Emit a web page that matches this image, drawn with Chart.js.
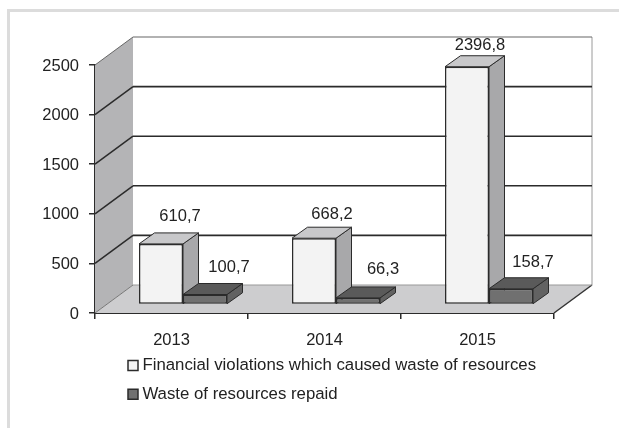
<!DOCTYPE html>
<html>
<head>
<meta charset="utf-8">
<script src="https://cdn.jsdelivr.net/npm/chart.js@4"></script>
<style>
  html, body { margin: 0; padding: 0; background: #fff; }
  body { width: 619px; height: 428px; overflow: hidden; position: relative; }
  #frame { position: absolute; left: 7px; top: 9px; right: 0; bottom: 0;
           border-top: 3px solid #dcdcdc; border-left: 3px solid #dcdcdc; }
  canvas { position: absolute; left: 0; top: 0; filter: blur(0.35px); }
</style>
</head>
<body>
<div id="frame"></div>
<canvas id="wasteChart" width="619" height="428"></canvas>
<script>
  const years = ['2013', '2014', '2015'];
  const violations = [610.7, 668.2, 2396.8];
  const repaid = [100.7, 66.3, 158.7];
  const seriesNames = ['Financial violations which caused waste of resources', 'Waste of resources repaid'];
  const yTicksMax = 2500;

  const WALL_DX = 38, WALL_DY = -28;   // depth of the box
  const BAR_DX = 11.5, BAR_DY = -8.5;  // bars stand partway back on the floor
  const FACE_DX = 15.5, FACE_DY = -11; // depth of one bar
  const FONT = '16.5px "Liberation Sans", Arial, sans-serif';

  function poly(ctx, pts, fill, stroke, lw) {
    ctx.beginPath();
    pts.forEach((p, i) => (i ? ctx.lineTo(p[0], p[1]) : ctx.moveTo(p[0], p[1])));
    ctx.closePath();
    if (fill) { ctx.fillStyle = fill; ctx.fill(); }
    if (stroke) { ctx.strokeStyle = stroke; ctx.lineWidth = lw || 1; ctx.stroke(); }
  }

  function line(ctx, x1, y1, x2, y2, color, lw) {
    ctx.beginPath();
    ctx.moveTo(x1, y1);
    ctx.lineTo(x2, y2);
    ctx.strokeStyle = color;
    ctx.lineWidth = lw;
    ctx.stroke();
  }

  const box3d = {
    id: 'box3d',
    afterLayout(chart) {
      // legend rows sit left aligned under the plot, not centred
      const lg = chart.legend;
      lg.left = 120;
      lg.right = 600;
      lg.top = 345;
    },
    beforeDatasetsDraw(chart) {
      const { ctx, scales } = chart;
      const y = scales.y, x = scales.x;
      const l = x.left, r = x.right, y0 = y.getPixelForValue(0), yTop = y.getPixelForValue(yTicksMax);

      ctx.save();
      // left wall and back wall
      poly(ctx, [[l, y0], [l + WALL_DX, y0 + WALL_DY], [l + WALL_DX, yTop + WALL_DY], [l, yTop]], '#b4b4b6');
      line(ctx, r + WALL_DX, yTop + WALL_DY, r + WALL_DX, y0 + WALL_DY, '#9a9a9a', 1);
      // floor
      poly(ctx, [[l, y0], [r, y0], [r + WALL_DX, y0 + WALL_DY], [l + WALL_DX, y0 + WALL_DY]], '#cdcdcf');
      line(ctx, l, y0, l + WALL_DX, y0 + WALL_DY, '#777', 1);
      line(ctx, r, y0, r + WALL_DX, y0 + WALL_DY, '#333', 1.5);
      line(ctx, l + WALL_DX, y0 + WALL_DY, r + WALL_DX, y0 + WALL_DY, '#999', 1);

      // gridlines run along the wall and the back
      y.ticks.forEach((t) => {
        if (t.value === 0) return;
        const py = y.getPixelForValue(t.value);
        const top = t.value === yTicksMax;
        const c = top ? '#666' : '#2b2b2b';
        line(ctx, l, py, l + WALL_DX, py + WALL_DY, c, top ? 1 : 1.5);
        line(ctx, l + WALL_DX, py + WALL_DY, r + WALL_DX, py + WALL_DY, c, top ? 1.2 : 1.6);
      });

      // every dataset is drawn on the bar plane, shifted back from the axis
      ctx.restore();
      ctx.save();
      ctx.translate(BAR_DX, BAR_DY);

      // side and top faces first, the library's own bars go on top as front faces
      chart.data.datasets.forEach((ds, di) => {
        chart.getDatasetMeta(di).data.forEach((bar) => {
          const { x: cx, y: top, base, width } = bar.getProps(['x', 'y', 'base', 'width']);
          const xr = cx + width / 2, xl = cx - width / 2;
          poly(ctx, [[xr, top], [xr + FACE_DX, top + FACE_DY], [xr + FACE_DX, base + FACE_DY], [xr, base]], ds.sideColor, '#2b2b2b', 1);
          poly(ctx, [[xl, top], [xl + FACE_DX, top + FACE_DY], [xr + FACE_DX, top + FACE_DY], [xr, top]], ds.topColor, '#2b2b2b', 1);
        });
      });
    },
    afterDatasetsDraw(chart) {
      const { ctx } = chart;
      ctx.restore();

      ctx.save();
      ctx.font = FONT;
      ctx.fillStyle = '#222';
      ctx.textAlign = 'center';
      ctx.textBaseline = 'middle';
      chart.data.datasets.forEach((ds, di) => {
        chart.getDatasetMeta(di).data.forEach((bar, i) => {
          const txt = ds.data[i].toFixed(1).replace('.', ',');
          const nudge = ds.labelNudge[i];
          ctx.fillText(txt, bar.x + BAR_DX + nudge[0], bar.y + BAR_DY + nudge[1]);
        });
      });
      ctx.restore();
    }
  };

  new Chart(document.getElementById('wasteChart'), {
    type: 'bar',
    plugins: [box3d],
    data: {
      labels: years,
      datasets: [
        {
          label: seriesNames[0],
          data: violations,
          backgroundColor: '#f3f3f3',
          borderColor: '#2b2b2b',
          borderWidth: 1.5,
          borderSkipped: false,
          sideColor: '#a8a8aa',
          topColor: '#c8c8ca',
          labelNudge: [[19, -27], [18, -24], [13, -21]],
          clip: false
        },
        {
          label: seriesNames[1],
          data: repaid,
          backgroundColor: '#707070',
          borderColor: '#2b2b2b',
          borderWidth: 1.5,
          borderSkipped: false,
          sideColor: '#626262',
          topColor: '#5a5a5a',
          labelNudge: [[24, -27], [25, -28], [22, -26]],
          clip: false
        }
      ]
    },
    options: {
      responsive: false,
      animation: false,
      layout: { padding: { top: 65, right: 65, bottom: 0, left: 0 } },
      categoryPercentage: 88 / 153,
      barPercentage: 1,
      scales: {
        x: {
          afterFit: (s) => { s.height = 115 - s.chart.legend.height; },
          border: { color: '#2b2b2b', width: 2 },
          grid: { drawOnChartArea: false, color: '#2b2b2b', tickLength: 6, lineWidth: 1.5 },
          ticks: { color: '#222', font: { size: 16.5, family: '"Liberation Sans", Arial, sans-serif' }, padding: 12 }
        },
        y: {
          min: 0,
          max: yTicksMax,
          afterFit: (s) => { s.width = 95; },
          border: { color: '#2b2b2b', width: 2 },
          grid: { drawOnChartArea: false, color: '#2b2b2b', tickLength: 6, lineWidth: 1.5 },
          ticks: {
            stepSize: 500,
            color: '#222',
            font: { size: 16.5, family: '"Liberation Sans", Arial, sans-serif' },
            padding: 10,
            labelOffset: 1,
            callback: (v) => String(v)
          }
        }
      },
      plugins: {
        tooltip: { enabled: false },
        legend: {
          position: 'bottom',
          align: 'start',
          maxWidth: 450,
          labels: {
            color: '#222',
            font: { size: 16.8, family: '"Liberation Sans", Arial, sans-serif' },
            usePointStyle: true,
            pointStyle: 'rect',
            boxWidth: 2,
            boxHeight: 10,
            padding: 12
          }
        }
      }
    }
  });
</script>
</body>
</html>
